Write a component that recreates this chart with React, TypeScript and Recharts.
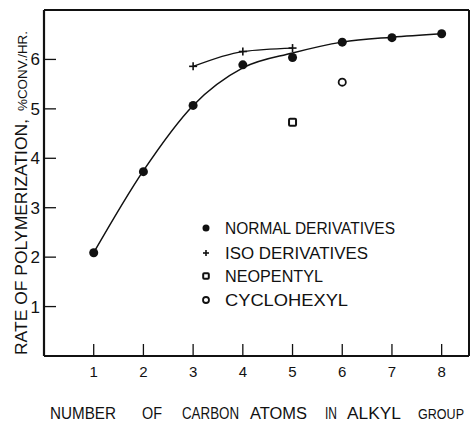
import React from 'react';
import { ComposedChart, Line, Scatter, XAxis, YAxis, ReferenceLine } from 'recharts';

// rate of polymerization (% conv./hr) vs number of carbon atoms in alkyl group
const carbonAtoms = [1, 2, 3, 4, 5, 6, 7, 8];
const normalRates = [2.09, 3.73, 5.07, 5.89, 6.04, 6.35, 6.44, 6.52];
const normalCurve = [2.09, 3.75, 5.07, 5.83, 6.13, 6.35, 6.45, 6.52];
const isoAtoms = [3, 4, 5];
const isoRates = [5.86, 6.16, 6.23];
const neopentylAtoms = [5];
const neopentylRates = [4.73];
const cyclohexylAtoms = [6];
const cyclohexylRates = [5.54];
const xTicks = [1, 2, 3, 4, 5, 6, 7, 8];
const yTicks = [1, 2, 3, 4, 5, 6];
const legendLabels = ['NORMAL DERIVATIVES', 'ISO DERIVATIVES', 'NEOPENTYL', 'CYCLOHEXYL'];
const xLabelWords = ['NUMBER', 'OF', 'CARBON', 'ATOMS', 'IN', 'ALKYL', 'GROUP'];

const FONT = "'Liberation Sans Narrow', 'Liberation Sans', Arial, sans-serif";
const INK = '#111';

const pts = (xs: number[], ys: number[]) => xs.map((x, i) => ({ x, y: ys[i] }));

const DotShape = ({ cx, cy, r = 4.5 }: any) => <circle cx={cx} cy={cy} r={r} fill={INK} />;
const PlusShape = ({ cx, cy, s = 4 }: any) => (
  <g stroke={INK} strokeWidth={1.6}>
    <line x1={cx - s} y1={cy} x2={cx + s} y2={cy} />
    <line x1={cx} y1={cy - s} x2={cx} y2={cy + s} />
  </g>
);
const SquareShape = ({ cx, cy, s = 3.5 }: any) => (
  <rect x={cx - s} y={cy - s} width={s * 2} height={s * 2} fill="#fff" stroke={INK} strokeWidth={2} rx={1} />
);
const RingShape = ({ cx, cy, r = 3.6 }: any) => (
  <circle cx={cx} cy={cy} r={r} fill="#fff" stroke={INK} strokeWidth={1.8} />
);

const YTick = ({ x, y, payload }: any) => (
  <g>
    <line x1={x + 3} y1={y} x2={x + 15} y2={y} stroke={INK} strokeWidth={1.3} />
    <text x={x - 1} y={y + 6} textAnchor="end" fontSize={17} fontFamily={FONT} fill={INK}>
      {payload.value}
    </text>
  </g>
);

const XTick = ({ x, y, payload }: any) => (
  <g>
    <line x1={x} y1={y} x2={x} y2={y - 12} stroke={INK} strokeWidth={1.3} />
    <text x={x} y={y + 21} textAnchor="middle" fontSize={15} fontFamily={FONT} fill={INK}>
      {payload.value}
    </text>
  </g>
);

const wordStarts = [50, 142, 182, 250, 325, 347, 418];
const wordWidths = [66, 20, 57, 57, 12, 54, 46];

const XTitle = () => (
  <g>
    {xLabelWords.map((w, i) => {
      const last = i === xLabelWords.length - 1;
      return (
        <text key={w} x={wordStarts[i]} y={419} fontSize={last ? 14 : 16} fontFamily={FONT} fill={INK}
          textLength={wordWidths[i]} lengthAdjust="spacingAndGlyphs">
          {w}
        </text>
      );
    })}
  </g>
);

const YTitle = () => (
  <text x={0} y={0} transform="translate(27 355) rotate(-90)" fontSize={17} fontFamily={FONT} fill={INK}>
    <tspan textLength={236} lengthAdjust="spacingAndGlyphs">RATE  OF  POLYMERIZATION,</tspan>
    <tspan dx={8} fontSize={13} textLength={80} lengthAdjust="spacingAndGlyphs">%CONV./HR.</tspan>
  </text>
);

const legendShapes = [
  <DotShape cx={8} cy={0} r={3.5} />,
  <PlusShape cx={8} cy={0} s={3} />,
  <SquareShape cx={8} cy={0} s={2.8} />,
  <RingShape cx={8} cy={0} r={3} />,
];
const legendRows = [228, 253, 276, 300];
const legendWidths = [170, 143, 98, 123];

const ChartLegend = () => (
  <svg width={230} height={110} style={{ position: 'absolute', left: 198, top: 205 }}>
    {legendLabels.map((label, i) => (
      <g key={label} transform={`translate(0 ${legendRows[i] - 205})`}>
        {legendShapes[i]}
        <text x={27} y={6} fontSize={16} fontFamily={FONT} fill={INK}
          textLength={legendWidths[i]} lengthAdjust="spacingAndGlyphs">
          {label}
        </text>
      </g>
    ))}
  </svg>
);

export default function App() {
  return (
    <div style={{ position: 'absolute', left: 0, top: 0, width: 473, height: 424, background: '#fff' }}>
      <ComposedChart width={473} height={424} margin={{ top: 10, right: 4, left: 0, bottom: 0 }}>
        <XAxis
          type="number"
          dataKey="x"
          domain={[0, 8.55]}
          ticks={xTicks}
          height={68}
          tickSize={0}
          tickMargin={0}
          tick={<XTick />}
          axisLine={{ stroke: INK, strokeWidth: 2.2 }}
          tickLine={false}
          label={{ content: () => <XTitle /> }}
        />
        <YAxis
          type="number"
          dataKey="y"
          domain={[0, 7]}
          ticks={yTicks}
          width={44}
          tickSize={0}
          tickMargin={3}
          tick={<YTick />}
          axisLine={{ stroke: INK, strokeWidth: 2.2 }}
          tickLine={false}
          label={{ content: () => <YTitle /> }}
        />
        <ReferenceLine y={7} stroke={INK} strokeWidth={2.2} />
        <ReferenceLine x={8.55} stroke={INK} strokeWidth={2} />
        <Line
          data={pts(carbonAtoms, normalCurve)}
          dataKey="y"
          type="monotone"
          stroke={INK}
          strokeWidth={1.5}
          dot={false}
          isAnimationActive={false}
        />
        <Line
          data={pts(isoAtoms, isoRates)}
          dataKey="y"
          type="monotone"
          stroke={INK}
          strokeWidth={1.3}
          dot={false}
          isAnimationActive={false}
        />
        <Scatter data={pts(carbonAtoms, normalRates)} dataKey="y" shape={<DotShape />} isAnimationActive={false} />
        <Scatter data={pts(isoAtoms, isoRates)} dataKey="y" shape={<PlusShape />} isAnimationActive={false} />
        <Scatter data={pts(neopentylAtoms, neopentylRates)} dataKey="y" shape={<SquareShape />} isAnimationActive={false} />
        <Scatter data={pts(cyclohexylAtoms, cyclohexylRates)} dataKey="y" shape={<RingShape />} isAnimationActive={false} />
      </ComposedChart>
      <ChartLegend />
    </div>
  );
}
